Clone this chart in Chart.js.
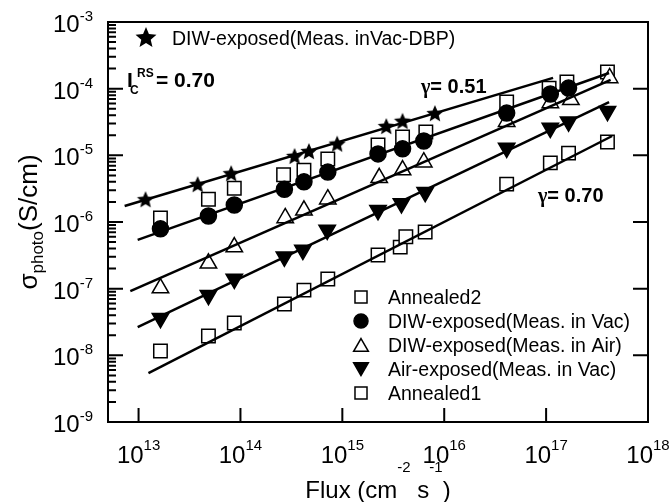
<!DOCTYPE html>
<html>
<head>
<meta charset="utf-8">
<script src="https://cdn.jsdelivr.net/npm/chart.js@4.4.0/dist/chart.umd.min.js"></script>
<style>
  html, body { margin: 0; padding: 0; background: #fff; }
</style>
</head>
<body>
<canvas id="photoChart" width="670" height="502"></canvas>
<script>
// flux in cm^-2 s^-1, sigma_photo in S/cm
const fluxDBP = [1.17e13, 3.8e13, 8.1e13, 3.4e14, 4.7e14, 8.9e14, 2.7e15, 3.9e15, 8.1e15];
const sigmaDBP = [2.2e-6, 3.7e-6, 5.4e-6, 9.8e-6, 1.16e-5, 1.5e-5, 2.75e-5, 3.3e-5, 4.3e-5];

const fluxA2 = [1.64e13, 4.85e13, 8.7e13, 2.65e14, 4.2e14, 7.2e14, 2.24e15, 3.9e15, 6.6e15, 4.1e16, 1.07e17, 1.6e17, 4.0e17];
const sigmaA2 = [1.15e-6, 2.2e-6, 3.2e-6, 5.1e-6, 6.0e-6, 8.8e-6, 1.43e-5, 1.88e-5, 2.24e-5, 6.3e-5, 1.02e-4, 1.26e-4, 1.78e-4];

const fluxDIWVac = [1.64e13, 4.85e13, 8.7e13, 2.7e14, 4.2e14, 7.2e14, 2.24e15, 3.9e15, 6.3e15, 4.1e16, 1.1e17, 1.66e17];
const sigmaDIWVac = [7.9e-7, 1.23e-6, 1.8e-6, 3.1e-6, 4.0e-6, 5.6e-6, 1.05e-5, 1.25e-5, 1.64e-5, 4.3e-5, 8.3e-5, 1.02e-4];

const fluxDIWAir = [1.64e13, 4.85e13, 8.7e13, 2.75e14, 4.2e14, 7.2e14, 2.3e15, 3.9e15, 6.3e15, 4.1e16, 1.1e17, 1.75e17, 4.2e17];
const sigmaDIWAir = [1.02e-7, 2.4e-7, 4.2e-7, 1.15e-6, 1.5e-6, 2.2e-6, 4.6e-6, 6.0e-6, 7.9e-6, 3.2e-5, 6.1e-5, 6.8e-5, 1.45e-4];

const fluxAirVac = [1.64e13, 4.85e13, 8.7e13, 2.7e14, 4.1e14, 7.1e14, 2.24e15, 3.8e15, 6.5e15, 4.1e16, 1.1e17, 1.66e17, 4.0e17];
const sigmaAirVac = [3.6e-8, 8.0e-8, 1.4e-7, 3.0e-7, 3.8e-7, 7.6e-7, 1.5e-6, 1.9e-6, 2.8e-6, 1.29e-5, 2.57e-5, 3.2e-5, 4.6e-5];

const fluxA1 = [1.64e13, 4.85e13, 8.7e13, 2.7e14, 4.2e14, 7.2e14, 2.24e15, 3.7e15, 4.2e15, 6.5e15, 4.1e16, 1.1e17, 1.66e17, 4.0e17];
const sigmaA1 = [1.16e-8, 1.95e-8, 3.05e-8, 5.9e-8, 9.5e-8, 1.4e-7, 3.2e-7, 4.2e-7, 6.0e-7, 7.1e-7, 3.7e-6, 7.7e-6, 1.08e-5, 1.58e-5];

// power-law fit lines (end points)
const fitFluxDBP = [7.3e12, 1.17e17];
const fitSigmaDBP = [1.74e-6, 1.45e-4];
const fitFluxDIWVac = [9.8e12, 4.15e17];
const fitSigmaDIWVac = [5.4e-7, 1.72e-4];
const fitFluxDIWAir = [8.3e12, 4.3e17];
const fitSigmaDIWAir = [9.2e-8, 1.35e-4];
const fitFluxAirVac = [9.8e12, 4.15e17];
const fitSigmaAirVac = [2.66e-8, 6.3e-5];
const fitFluxA1 = [1.25e13, 4.45e17];
const fitSigmaA1 = [5.4e-9, 1.95e-5];

const xTickPowers = [13, 14, 15, 16, 17, 18];
const yTickPowers = [-9, -8, -7, -6, -5, -4, -3];

const legendLabels = [
    'Annealed2',
    'DIW-exposed(Meas. in Vac)',
    'DIW-exposed(Meas. in Air)',
    'Air-exposed(Meas. in Vac)',
    'Annealed1'
];
const topLegendLabel = 'DIW-exposed(Meas. inVac-DBP)';

const FAM = '"Liberation Sans", Arial, sans-serif';

const pts = (xs, ys) => xs.map((x, i) => ({ x: x, y: ys[i] }));

// filled five-point star used as a point style
function makeStar(r) {
    const c = document.createElement('canvas');
    const s = Math.ceil(r * 2 + 2);
    c.width = s; c.height = s;
    const g = c.getContext('2d');
    g.beginPath();
    for (let i = 0; i < 10; i++) {
        const rad = i % 2 ? r * 0.45 : r;
        const a = -Math.PI / 2 + i * Math.PI / 5;
        const px = s / 2 + rad * Math.cos(a);
        const py = s / 2 + r * 0.1 + rad * Math.sin(a);
        if (i === 0) g.moveTo(px, py); else g.lineTo(px, py);
    }
    g.closePath();
    g.fillStyle = '#000';
    g.fill();
    return c;
}
const starSmall = makeStar(9);
const starLegend = makeStar(11);

function fitLine(xs, ys) {
    return {
        data: pts(xs, ys),
        showLine: true,
        borderColor: '#000',
        borderWidth: 2.5,
        pointRadius: 0,
        order: 0
    };
}

// markers: style, radius, fill, rotation
const markerStyles = [
    { pointStyle: 'rect', radius: 9.5, fill: '#fff', rotation: 0 },
    { pointStyle: 'circle', radius: 8, fill: '#000', rotation: 0 },
    { pointStyle: 'triangle', radius: 9.5, fill: '#fff', rotation: 0 },
    { pointStyle: 'triangle', radius: 9.5, fill: '#000', rotation: 180 },
    { pointStyle: 'rect', radius: 9.5, fill: '#fff', rotation: 0 }
];

function markerSet(xs, ys, m, order) {
    return {
        data: pts(xs, ys),
        showLine: false,
        pointStyle: m.pointStyle,
        pointRadius: m.radius,
        pointRotation: m.rotation,
        pointBackgroundColor: m.fill,
        pointBorderColor: '#000',
        pointBorderWidth: 1.5,
        order: order
    };
}

function drawPower(ctx, exp, x, y, align, rise) {
    const baseFont = '24px ' + FAM;
    const supFont = '15px ' + FAM;
    ctx.font = baseFont;
    const bw = ctx.measureText('10').width;
    ctx.font = supFont;
    const sw = ctx.measureText(exp).width;
    const left = align === 'center' ? x - (bw + sw) / 2 : x - bw - sw;
    ctx.textAlign = 'left';
    ctx.textBaseline = 'alphabetic';
    ctx.font = baseFont;
    ctx.fillText('10', left, y);
    ctx.font = supFont;
    ctx.fillText(exp, left + bw, y - rise);
}

// draw a run of [text, font, dy] pieces left to right, returns total width
function runWidth(ctx, parts) {
    let w = 0;
    parts.forEach(p => { ctx.font = p[1]; w += ctx.measureText(p[0]).width; });
    return w;
}
function drawRun(ctx, parts, x, y) {
    let cx = x;
    parts.forEach(p => {
        ctx.font = p[1];
        ctx.fillText(p[0], cx, y + p[2]);
        cx += ctx.measureText(p[0]).width;
    });
}

const decorPlugin = {
    id: 'decor',
    afterDatasetsDraw(chart) {
        const { ctx, chartArea: a, scales } = chart;
        const xs = scales.x, ys = scales.y;
        ctx.save();
        ctx.strokeStyle = '#000';
        ctx.fillStyle = '#000';
        ctx.lineWidth = 2;
        ctx.strokeRect(a.left, a.top, a.right - a.left, a.bottom - a.top);

        // inward ticks
        ctx.beginPath();
        yTickPowers.forEach(p => {
            const py = ys.getPixelForValue(Math.pow(10, p));
            ctx.moveTo(a.left, py); ctx.lineTo(a.left + 15, py);
            ctx.moveTo(a.right, py); ctx.lineTo(a.right - 15, py);
            if (p < -3) {
                for (let m = 2; m <= 9; m++) {
                    const my = ys.getPixelForValue(m * Math.pow(10, p));
                    ctx.moveTo(a.left, my); ctx.lineTo(a.left + 8, my);
                }
            }
        });
        xTickPowers.forEach(p => {
            const px = xs.getPixelForValue(Math.pow(10, p));
            ctx.moveTo(px, a.bottom); ctx.lineTo(px, a.bottom - 14);
        });
        ctx.stroke();

        // tick labels
        xTickPowers.forEach(p => {
            drawPower(ctx, String(p), xs.getPixelForValue(Math.pow(10, p)), a.bottom + 41, 'center', 13);
        });
        yTickPowers.forEach(p => {
            drawPower(ctx, String(p), a.left - 15, ys.getPixelForValue(Math.pow(10, p)) + 10, 'right', 11);
        });

        // x title
        const big = '24px ' + FAM, sup = '15px ' + FAM;
        const xParts = [['Flux (cm', big, 0], ['-2', sup, -26], [' s', big, 0], ['-1', sup, -26], [')', big, 0]];
        ctx.textAlign = 'left';
        const xw = runWidth(ctx, xParts);
        drawRun(ctx, xParts, (a.left + a.right) / 2 - xw / 2, 498);

        // y title, rotated
        const yParts = [['\u03c3', '26px ' + FAM, 0], ['photo', '17px ' + FAM, 6], ['(S/cm)', '26px ' + FAM, 0]];
        const yw = runWidth(ctx, yParts);
        ctx.save();
        ctx.translate(37, (a.top + a.bottom) / 2 + yw / 2);
        ctx.rotate(-Math.PI / 2);
        drawRun(ctx, yParts, 0, 0);
        ctx.restore();

        // annotations
        const gam = 'bold 20px "Liberation Serif", serif';
        const bold = 'bold 20px ' + FAM;
        drawRun(ctx, [['\u03b3', gam, 0], ['= 0.51', bold, 0]], 421, 93);
        drawRun(ctx, [['\u03b3', gam, 0], ['= 0.70', bold, 0]], 538, 202);
        ctx.font = 'bold 21px ' + FAM;
        ctx.fillText('I', 127, 87);
        ctx.font = 'bold 12px ' + FAM;
        ctx.fillText('C', 130, 94);
        ctx.fillText('RS', 137, 77);
        ctx.font = 'bold 21px ' + FAM;
        ctx.fillText('= 0.70', 156, 87);

        // legends
        const lf = '19.5px ' + FAM;
        ctx.drawImage(starLegend, 146 - starLegend.width / 2, 37 - starLegend.height / 2);
        ctx.font = lf;
        ctx.fillText(topLegendLabel, 172, 45);

        legendLabels.forEach((label, i) => {
            const cy = 297 + i * 24;
            const m = markerStyles[i];
            ctx.fillStyle = m.fill;
            ctx.strokeStyle = '#000';
            ctx.lineWidth = 1.5;
            const yOff = m.pointStyle === 'triangle' ? (m.rotation ? -2 : 2) : 0;
            Chart.helpers.drawPoint(ctx, { pointStyle: m.pointStyle, radius: m.radius - 1, rotation: m.rotation, borderWidth: 1.5 }, 361, cy + yOff);
            ctx.fillStyle = '#000';
            ctx.font = lf;
            ctx.fillText(label, 388, cy + 7);
        });
        ctx.restore();
    }
};

new Chart(document.getElementById('photoChart'), {
    type: 'scatter',
    data: {
        datasets: [
            fitLine(fitFluxDBP, fitSigmaDBP),
            fitLine(fitFluxDIWVac, fitSigmaDIWVac),
            fitLine(fitFluxDIWAir, fitSigmaDIWAir),
            fitLine(fitFluxAirVac, fitSigmaAirVac),
            fitLine(fitFluxA1, fitSigmaA1),
            {
                data: pts(fluxDBP, sigmaDBP),
                showLine: false,
                pointStyle: starSmall,
                pointRadius: 9,
                order: 1
            },
            markerSet(fluxDIWVac, sigmaDIWVac, markerStyles[1], 1),
            markerSet(fluxAirVac, sigmaAirVac, markerStyles[3], 1),
            markerSet(fluxDIWAir, sigmaDIWAir, markerStyles[2], 2),
            markerSet(fluxA1, sigmaA1, markerStyles[4], 2),
            markerSet(fluxA2, sigmaA2, markerStyles[0], 3)
        ]
    },
    options: {
        responsive: false,
        animation: false,
        layout: { padding: { left: 0, right: 22, top: 22, bottom: 0 } },
        plugins: { legend: { display: false }, tooltip: { enabled: false } },
        scales: {
            x: {
                type: 'logarithmic',
                min: Math.pow(10, 12.7),
                max: 1e18,
                ticks: { display: false },
                grid: { display: false },
                border: { display: false },
                afterFit: s => { s.height = 80; }
            },
            y: {
                type: 'logarithmic',
                min: 1e-9,
                max: 1e-3,
                ticks: { display: false },
                grid: { display: false },
                border: { display: false },
                afterFit: s => { s.width = 108; }
            }
        }
    },
    plugins: [decorPlugin]
});
</script>
</body>
</html>
